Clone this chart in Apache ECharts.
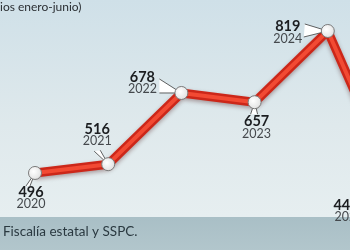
<!DOCTYPE html>
<html>
<head>
<meta charset="utf-8">
<script src="https://cdn.jsdelivr.net/npm/echarts@6/dist/echarts.min.js"></script>
<style>html,body{margin:0;padding:0;}#c{width:350px;height:250px;}</style>
</head>
<body>
<div id="c"></div>
<script>
var years = ['2020', '2021', '2022', '2023', '2024', '2025'];
var values = [496, 516, 678, 657, 819, 441];
var headerText = 'ios enero-junio)';
var sourceText = 'Fiscalía estatal y SSPC.';

// label placement (relative to each point): value text, year text, pointer base
var labelStyle = [
  {vx: -4, vy: 19, yx: -4, yy: 31, b1: [-9, 13], b2: [-5, 13]},
  {vx: -11, vy: -35, yx: -11, yy: -23, b1: [-14, -13], b2: [-8, -14]},
  {vx: -39, vy: -16, yx: -39, yy: -4, b1: [-22, -14], b2: [-22, 0]},
  {vx: 2, vy: 19, yx: 2, yy: 32, b1: [-4, 12], b2: [3, 12]},
  {vx: -40, vy: -5, yx: -40, yy: 8, b1: [-23, -7], b2: [-24, 6]},
  {vx: -55, vy: 8, yx: -52, yy: 20, b1: [-30, 2], b2: [-30, 10]}
];

var chart = echarts.init(document.getElementById('c'), null, {renderer: 'canvas'});
var pts = values.map(function (v, i) { return [i, v]; });

chart.setOption({
  animation: false,
  backgroundColor: {
    type: 'linear', x: 0, y: 0, x2: 0, y2: 1,
    colorStops: [
      {offset: 0, color: '#cfe0e8'},
      {offset: 0.5, color: '#dfe9ec'},
      {offset: 0.866, color: '#e6eef0'},
      {offset: 0.87, color: '#a9bfc6'},
      {offset: 1, color: '#b2c6cc'}
    ]
  },
  graphic: [
    {type: 'text', left: 0, top: 1, style: {text: headerText, font: '12px Lato', fill: '#2b2f33'}},
    {type: 'text', left: 3, top: 225, style: {text: sourceText, font: '13.5px Lato', fill: '#2a3940'}}
  ],
  grid: {left: 35, top: 0, right: 0, bottom: 0, outerBoundsMode: 'none', containLabel: false},
  xAxis: {type: 'value', min: 0, max: 315 / 73.2, show: false},
  yAxis: {type: 'value', min: 320.8, max: 889.5, show: false},
  series: [
    {
      type: 'line', data: pts, showSymbol: false, z: 2, clip: false,
      lineStyle: {width: 9, color: '#cc2719', shadowColor: 'rgba(60,0,0,0.35)', shadowBlur: 4, shadowOffsetY: 2, join: 'round'}
    },
    {
      type: 'line', data: pts, showSymbol: false, z: 3, clip: false,
      lineStyle: {width: 4, color: '#f24a33', join: 'round'}
    },
    {
      type: 'custom', data: pts, z: 5, clip: false,
      renderItem: function (params, api) {
        var i = params.dataIndex;
        var p = api.coord([api.value(0), api.value(1)]);
        var s = labelStyle[i];
        var x = p[0], y = p[1];
        return {
          type: 'group',
          children: [
            {type: 'polygon', shape: {points: [[x, y], [x + s.b1[0], y + s.b1[1]], [x + s.b2[0], y + s.b2[1]]]},
              style: {fill: '#ffffff', stroke: null}},
            {type: 'line', shape: {x1: x, y1: y, x2: x + s.b1[0], y2: y + s.b1[1]}, style: {stroke: '#3a3a3a', lineWidth: 0.8}},
            {type: 'line', shape: {x1: x, y1: y, x2: x + s.b2[0], y2: y + s.b2[1]}, style: {stroke: '#3a3a3a', lineWidth: 0.8}},
            {type: 'circle', shape: {cx: x, cy: y, r: 6.5},
              style: {fill: {type: 'radial', x: 0.4, y: 0.4, r: 0.7, colorStops: [{offset: 0, color: '#ffffff'}, {offset: 1, color: '#dcdcdc'}]},
                stroke: '#7a7a7a', lineWidth: 1}},
            {type: 'text', x: x + s.vx, y: y + s.vy,
              style: {text: String(values[i]), font: 'bold 14.5px Lato', fill: '#1b1d20', align: 'center', verticalAlign: 'middle'}},
            {type: 'text', x: x + s.yx, y: y + s.yy,
              style: {text: years[i], font: '12.5px Lato', fill: '#45494d', align: 'center', verticalAlign: 'middle'}}
          ]
        };
      }
    }
  ]
});
</script>
</body>
</html>
